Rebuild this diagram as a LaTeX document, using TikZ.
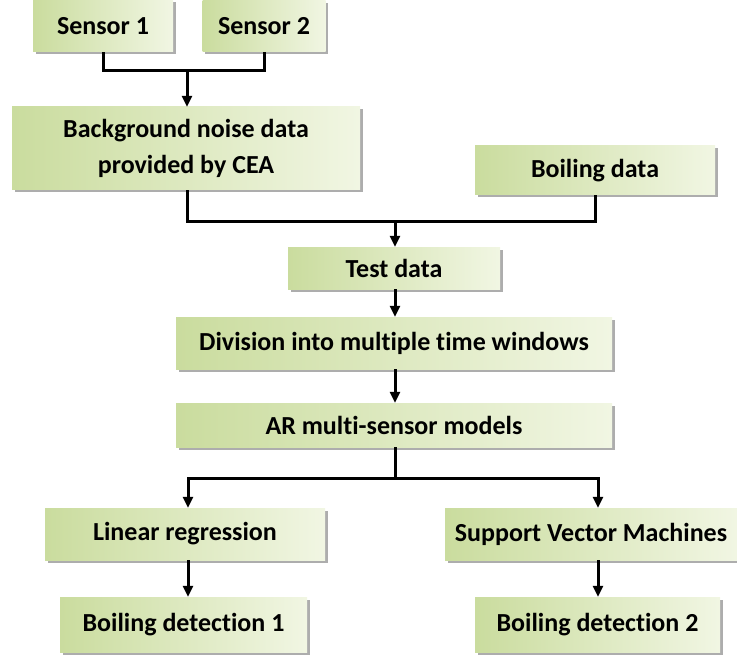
\documentclass[tikz,border=0pt]{standalone}
\usepackage{fontspec}
\setmainfont[Ligatures=CommonOff]{Carlito}
\usetikzlibrary{arrows.meta,shadows}
\definecolor{boxL}{RGB}{202,220,158}
\definecolor{boxR}{RGB}{241,246,227}
\begin{document}
\begin{tikzpicture}[x=1pt,y=-1pt,
  box/.style={draw=none, inner sep=0pt, left color=boxL, right color=boxR,
    drop shadow={shadow xshift=2.5pt, shadow yshift=-2.5pt, fill=black!40, opacity=0.8},
    font=\fontsize{26}{36}\selectfont\bfseries, align=center, text=black},
  conn/.style={line width=3pt, black},
  arr/.style={conn, -{Triangle[length=11pt,width=10pt]}}]
\useasboundingbox (0,0) rectangle (737,658);
\node[box, minimum width=140pt, minimum height=52pt] (s1) at (103,26) {Sensor 1};
\node[box, minimum width=123pt, minimum height=51pt] (s2) at (264,26.5) {Sensor 2};
\node[box, minimum width=348pt, minimum height=83pt] (bg) at (186,148.5) {Background noise data\\provided by CEA};
\node[box, minimum width=240pt, minimum height=49pt] (boil) at (595,170.5) {Boiling data};
\node[box, minimum width=212pt, minimum height=42pt] (test) at (394,268) {Test data};
\node[box, minimum width=436pt, minimum height=52pt] (div) at (394,343) {Division into multiple time windows};
\node[box, minimum width=436pt, minimum height=44pt] (ar) at (394,425) {AR multi-sensor models};
\node[box, minimum width=280pt, minimum height=52pt] (lr) at (185,534) {Linear regression};
\node[box, minimum width=292pt, minimum height=52pt] (svm) at (591,534) {Support Vector Machines};
\node[box, minimum width=247pt, minimum height=55pt] (bd1) at (183.5,624.5) {Boiling detection 1};
\node[box, minimum width=245pt, minimum height=55pt] (bd2) at (597.5,624.5) {Boiling detection 2};
\coordinate (j1) at (187,71);
\coordinate (j2) at (395,222);
\coordinate (j3) at (395,478);
\draw[conn] (s1.south) |- (j1) -| (s2.south);
\draw[arr] (j1) -- (j1 |- bg.north);
\draw[conn] (j1 |- bg.south) |- (j2) -| (boil.south);
\draw[arr] (j2) -- (j2 |- test.north);
\draw[arr] (j2 |- test.south) -- (j2 |- div.north);
\draw[arr] (j2 |- div.south) -- (j2 |- ar.north);
\draw[conn] (j3 |- ar.south) -- (j3);
\draw[arr] (j3) -| (188,0 |- lr.north);
\draw[arr] (j3) -| (598,0 |- svm.north);
\draw[arr] (188,0 |- lr.south) -- (188,0 |- bd1.north);
\draw[arr] (598,0 |- svm.south) -- (598,0 |- bd2.north);
\end{tikzpicture}
\end{document}
